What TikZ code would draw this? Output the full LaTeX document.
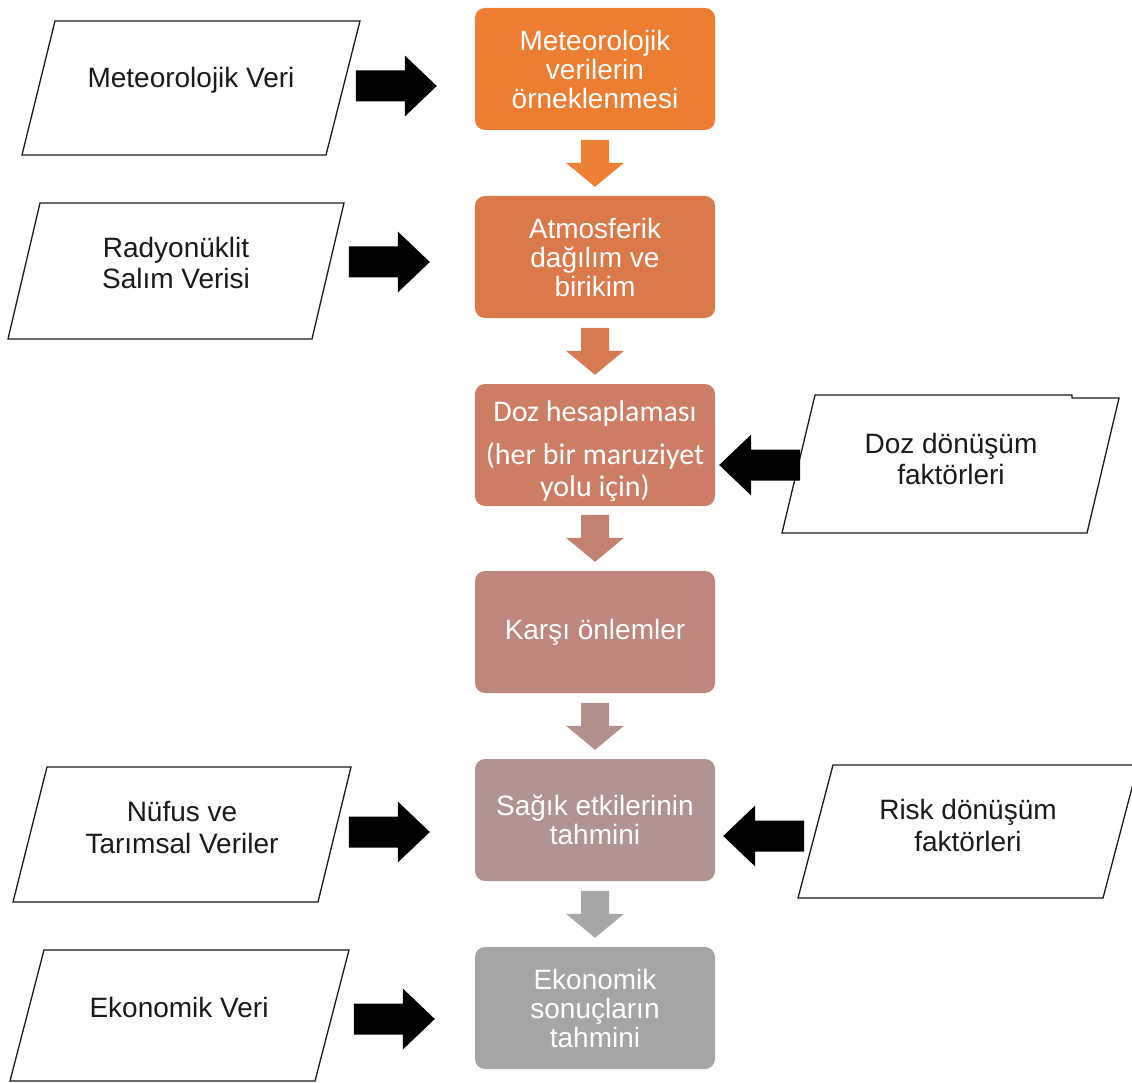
\documentclass[tikz,border=0pt]{standalone}
\usepackage{fontspec}
\setmainfont{Liberation Sans}
\newfontfamily\calfont{Carlito}
\usetikzlibrary{calc}
% stage fills: orange to grey
\definecolor{s1}{RGB}{237,125,49}
\definecolor{s2}{RGB}{220,121,75}
\definecolor{s3}{RGB}{204,125,100}
\definecolor{s4}{RGB}{190,134,124}
\definecolor{s5}{RGB}{177,148,145}
\definecolor{s6}{RGB}{165,165,165}
% down-arrow fills
\definecolor{d1}{RGB}{238,128,52}
\definecolor{d2}{RGB}{216,122,81}
\definecolor{d3}{RGB}{197,129,112}
\definecolor{d4}{RGB}{180,144,140}
\definecolor{d5}{RGB}{167,167,167}
\definecolor{ink}{RGB}{26,26,26}
\begin{document}
\begin{tikzpicture}[x=1pt,y=-1pt,
  stage/.style={rounded corners=10pt, minimum width=240pt, minimum height=122pt,
    inner sep=0pt, text=white, align=center, font=\fontsize{28}{29}\selectfont},
  datum/.style={draw=ink, line width=1.3pt, fill=white, line join=miter},
  datatext/.style={text=ink, align=center, inner sep=0pt,
    font=\fontsize{28}{31.5}\selectfont},
  pics/rblock/.style={code={\fill[black] (0,0) -- (-32,-30.5) -- (-32,-15.5)
    -- (-81,-15.5) -- (-81,15.5) -- (-32,15.5) -- (-32,30.5) -- cycle;}},
  pics/dblock/.style={code={\fill[#1] (0,0) -- (-29,-24) -- (-14,-24)
    -- (-14,-47) -- (14,-47) -- (14,-24) -- (29,-24) -- cycle;}},
]
\useasboundingbox (0,0) rectangle (1132,1083);
\fill[white] (0,0) rectangle (1132,1083);

% process stages
\node[stage, fill=s1] (b1) at (595,69) {Meteorolojik\\verilerin\\örneklenmesi};
\node[stage, fill=s2] (b2) at (595,257) {Atmosferik\\dağılım ve\\birikim};
\node[stage, fill=s3, font=\calfont\fontsize{30}{32}\selectfont] (b3) at (595,445)
  {\rule{0pt}{34pt}Doz hesaplaması\\[11pt](her bir maruziyet\\yolu için)};
\node[stage, fill=s4] (b4) at (595,632) {Karşı önlemler};
\node[stage, fill=s5] (b5) at (595,820) {Sağık etkilerinin\\tahmini};
\node[stage, fill=s6] (b6) at (595,1008) {Ekonomik\\sonuçların\\tahmini};

% arrows between stages
\pic at ($(b2.north)+(0,-9)$) {dblock=d1};
\pic at ($(b3.north)+(0,-9)$) {dblock=d2};
\pic at ($(b4.north)+(0,-9)$) {dblock=d3};
\pic at ($(b5.north)+(0,-9)$) {dblock=d4};
\pic at ($(b6.north)+(0,-9)$) {dblock=d5};

% input data (parallelograms)
\draw[datum] (55,21) -- (360,21) -- (326,155) -- (22,155) -- cycle;
\node[datatext] (p1) at (191,80.7) {Meteorolojik Veri};

\draw[datum] (40,203) -- (344,203) -- (312,339) -- (8,339) -- cycle;
\node[datatext] (p2) at (176,262.8) {Radyonüklit\\Salım Verisi};

\draw[datum] (815,395) -- (1072,395) -- (1072,398) -- (1119,398) -- (1087,533)
  -- (782,533) -- cycle;
\node[datatext] (p3) at (951,458.8) {Doz dönüşüm\\faktörleri};

\draw[datum] (833,765) -- (1138,765) -- (1103,898) -- (798,898) -- cycle;
\node[datatext] (p4) at (968,825.3) {Risk dönüşüm\\faktörleri};

\draw[datum] (47,767) -- (351,767) -- (318,902) -- (13,902) -- cycle;
\node[datatext] (p5) at (182,827.3) {Nüfus ve\\Tarımsal Veriler};

\draw[datum] (44,950) -- (349,950) -- (315,1081) -- (10,1081) -- cycle;
\node[datatext] (p6) at (179,1007.8) {Ekonomik Veri};

% data feeding arrows
\pic at ($(b1.west)+(-38,17)$) {rblock};
\pic at ($(b2.west)+(-45,5)$) {rblock};
\pic[rotate=180] at ($(b3.east)+(4,20)$) {rblock};
\pic[rotate=180] at ($(b5.east)+(8,16)$) {rblock};
\pic at ($(b5.west)+(-45,12)$) {rblock};
\pic at ($(b6.west)+(-40,11)$) {rblock};
\end{tikzpicture}
\end{document}
